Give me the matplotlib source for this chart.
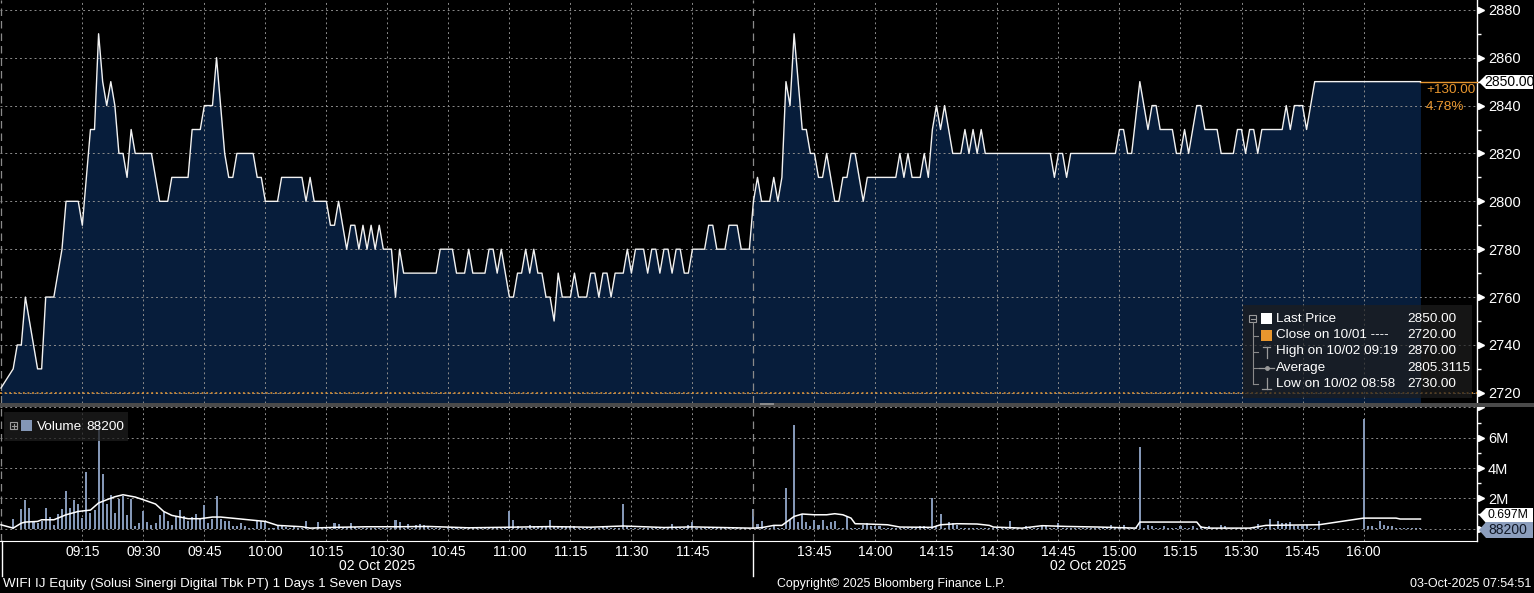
import numpy as np
import pandas as pd
import matplotlib
matplotlib.use('Agg')
import matplotlib.pyplot as plt
import matplotlib.transforms as mtransforms
from matplotlib.patches import Rectangle, Polygon

W, H = 1534, 593
plt.rcParams['font.family'] = ['Liberation Sans', 'DejaVu Sans']

NAVY = '#071d3b'
GRID = '#8c8c8c'
ORANGE = '#e8962e'
VOLC = '#8497b6'

# price path, morning session (time, price)
am_path = [
    ('08:55', 2722), ('08:58', 2730), ('08:59', 2740), ('09:00', 2740), ('09:01', 2760),
    ('09:04', 2730), ('09:05', 2730), ('09:06', 2760), ('09:08', 2760), ('09:10', 2780),
    ('09:11', 2800), ('09:14', 2800), ('09:15', 2790), ('09:17', 2830), ('09:18', 2830),
    ('09:19', 2870), ('09:20', 2850), ('09:21', 2840), ('09:22', 2850), ('09:23', 2840),
    ('09:24', 2820), ('09:25', 2820), ('09:26', 2810), ('09:27', 2830), ('09:28', 2820),
    ('09:32', 2820), ('09:34', 2800), ('09:36', 2800), ('09:37', 2810), ('09:41', 2810),
    ('09:42', 2830), ('09:44', 2830), ('09:45', 2840), ('09:47', 2840), ('09:48', 2860),
    ('09:49', 2840), ('09:50', 2820), ('09:51', 2810), ('09:52', 2810), ('09:53', 2820),
    ('09:57', 2820), ('09:58', 2810), ('09:59', 2810), ('10:00', 2800), ('10:03', 2800),
    ('10:04', 2810), ('10:09', 2810), ('10:10', 2800), ('10:11', 2810), ('10:12', 2800),
    ('10:15', 2800), ('10:16', 2790), ('10:17', 2790), ('10:18', 2800), ('10:20', 2780),
    ('10:21', 2790), ('10:22', 2790), ('10:23', 2780), ('10:24', 2790), ('10:25', 2780),
    ('10:26', 2790), ('10:27', 2780), ('10:28', 2790), ('10:29', 2780), ('10:31', 2780),
    ('10:32', 2760), ('10:33', 2780), ('10:34', 2770), ('10:42', 2770), ('10:43', 2780),
    ('10:46', 2780), ('10:47', 2770), ('10:49', 2770), ('10:50', 2780), ('10:51', 2770),
    ('10:54', 2770), ('10:55', 2780), ('10:56', 2780), ('10:57', 2770), ('10:58', 2780),
    ('11:00', 2760), ('11:01', 2760), ('11:02', 2770), ('11:03', 2770), ('11:04', 2780),
    ('11:05', 2770), ('11:06', 2780), ('11:07', 2770), ('11:08', 2770), ('11:09', 2760),
    ('11:10', 2760), ('11:11', 2750), ('11:12', 2770), ('11:13', 2760), ('11:15', 2760),
    ('11:16', 2770), ('11:17', 2760), ('11:19', 2760), ('11:20', 2770), ('11:21', 2770),
    ('11:22', 2760), ('11:23', 2770), ('11:24', 2770), ('11:25', 2760), ('11:26', 2770),
    ('11:28', 2770), ('11:29', 2780), ('11:30', 2770), ('11:31', 2780), ('11:33', 2780),
    ('11:34', 2770), ('11:35', 2780), ('11:36', 2780), ('11:37', 2770), ('11:38', 2780),
    ('11:39', 2780), ('11:40', 2770), ('11:41', 2780), ('11:42', 2780), ('11:43', 2770),
    ('11:44', 2770), ('11:45', 2780), ('11:48', 2780), ('11:49', 2790), ('11:50', 2790),
    ('11:51', 2780), ('11:53', 2780), ('11:54', 2790), ('11:56', 2790), ('11:57', 2780),
    ('11:59', 2780),
]

# price path, afternoon session
pm_path = [
    ('13:30', 2800), ('13:31', 2810), ('13:32', 2800), ('13:34', 2800), ('13:35', 2810),
    ('13:36', 2800), ('13:37', 2810), ('13:38', 2850), ('13:39', 2840), ('13:40', 2870),
    ('13:41', 2850), ('13:42', 2830), ('13:43', 2830), ('13:44', 2820), ('13:45', 2820),
    ('13:46', 2810), ('13:47', 2810), ('13:48', 2820), ('13:49', 2810), ('13:50', 2800),
    ('13:51', 2800), ('13:52', 2810), ('13:53', 2810), ('13:54', 2820), ('13:55', 2820),
    ('13:57', 2800), ('13:58', 2810), ('14:05', 2810), ('14:06', 2820), ('14:07', 2810),
    ('14:08', 2820), ('14:09', 2810), ('14:11', 2810), ('14:12', 2820), ('14:13', 2810),
    ('14:14', 2830), ('14:15', 2840), ('14:16', 2830), ('14:17', 2840), ('14:19', 2820),
    ('14:21', 2820), ('14:22', 2830), ('14:23', 2820), ('14:24', 2830), ('14:25', 2820),
    ('14:26', 2830), ('14:27', 2820), ('14:43', 2820), ('14:44', 2810), ('14:45', 2820),
    ('14:46', 2820), ('14:47', 2810), ('14:48', 2820), ('14:59', 2820), ('15:00', 2830),
    ('15:01', 2830), ('15:02', 2820), ('15:03', 2820), ('15:05', 2850), ('15:07', 2830),
    ('15:08', 2840), ('15:09', 2840), ('15:10', 2830), ('15:13', 2830), ('15:14', 2820),
    ('15:15', 2820), ('15:16', 2830), ('15:17', 2820), ('15:18', 2830), ('15:19', 2840),
    ('15:20', 2840), ('15:21', 2830), ('15:24', 2830), ('15:25', 2820), ('15:28', 2820),
    ('15:29', 2830), ('15:30', 2830), ('15:31', 2820), ('15:32', 2830), ('15:33', 2830),
    ('15:34', 2820), ('15:35', 2830), ('15:40', 2830), ('15:41', 2840), ('15:42', 2830),
    ('15:43', 2840), ('15:45', 2840), ('15:46', 2830), ('15:48', 2850), ('16:14', 2850),
]

# volume per minute (millions), morning from 08:55
vol_am = [
    0, 0, 0, 0.67, 0,
    1.28, 1.89, 1.39, 0.54, 0.38, 0.54, 1.35, 0.79, 0.27, 0.94,
    1.28, 2.47, 1.35, 1.89, 1.66, 0.72, 3.76, 1.01, 1.21, 7.2,
    3.64, 1.62, 2.2, 1.06, 1.96, 2.18, 0.9, 1.96, 0.16, 0.38,
    1.17, 0.45, 0.27, 0.38, 0.9, 1.12, 0.49, 0.22, 0.83, 1.21,
    0.83, 0.54, 0.76, 0.99, 0.61, 1.57, 0.38, 0.61, 2.18, 0.61,
    0.54, 0.54, 0.16, 0.16, 0.38, 0.16, 0.08, 0.05, 0.54, 0.49,
    0.45, 0.08, 0.05, 0.15, 0.15, 0.1, 0.08, 0.1, 0.08, 0.05,
    0.49, 0.08, 0.05, 0.45, 0.08, 0.05, 0.05, 0.38, 0.34, 0.05,
    0.05, 0.38, 0.1, 0.05, 0.08, 0.05, 0.08, 0.05, 0.05, 0.08,
    0.05, 0.08, 0.6, 0.44, 0.08, 0.33, 0.08, 0.27, 0.33, 0.27,
    0.1, 0.05, 0.05, 0.08, 0, 0.05, 0.05, 0.08, 0.05, 0.05,
    0.08, 0.05, 0.05, 0.05, 0.05, 0.08, 0.05, 0.05, 0.05, 0.1,
    1.16, 0.56, 0.2, 0.08, 0.08, 0.27, 0.15, 0.1, 0.1, 0.15,
    0.6, 0.15, 0.15, 0.15, 0.1, 0.15, 0.15, 0.08, 0.08, 0.1,
    0.05, 0.08, 0.05, 0.2, 0.2, 0.08, 0.05, 0.05, 1.6, 0.2,
    0.05, 0.05, 0.05, 0.05, 0.05, 0.05, 0.05, 0.05, 0.08, 0.1,
    0.33, 0.08, 0.05, 0.08, 0.27, 0.42, 0.05, 0.05, 0.05, 0.05,
    0.05, 0.05, 0.05, 0.05, 0.05, 0.05, 0.05, 0.05, 0.05, 0.05,
]

# volume per minute (millions), afternoon from 13:30
vol_pm = [
    1.28, 0.34, 0.54, 0.05, 0.05, 0.22, 0.05, 0.05, 2.7, 0.6,
    6.85, 0.45, 0.94, 0.45, 0.16, 0.6, 0.22, 0.6, 0.16, 0.45,
    0.54, 0.08, 0.08, 0.83, 0.05, 0.08, 0.08, 0.27, 0.38, 0.2,
    0.2, 0.15, 0.05, 0.05, 0.05, 0.05, 0.05, 0.05, 0.05, 0.05,
    0.05, 0.15, 0.15, 0.05, 2.0, 0.15, 0.94, 0.05, 0.45, 0.38,
    0.22, 0.05, 0.05, 0.05, 0.05, 0.05, 0.05, 0.05, 0.05, 0.05,
    0.05, 0.05, 0.05, 0.54, 0.05, 0.05, 0.05, 0.2, 0.05, 0.05,
    0.05, 0.27, 0.2, 0.05, 0.05, 0.38, 0.05, 0.05, 0.05, 0.05,
    0.05, 0.05, 0.05, 0.05, 0.05, 0.05, 0.05, 0.05, 0.27, 0.05,
    0.05, 0.27, 0.05, 0.05, 0.05, 5.4, 0.05, 0.27, 0.15, 0.05,
    0.05, 0.15, 0.05, 0.05, 0.05, 0.15, 0.05, 0.05, 0.15, 0.05,
    0.2, 0.05, 0.15, 0.05, 0.05, 0.27, 0.2, 0.05, 0.05, 0.05,
    0.05, 0.05, 0.05, 0.05, 0.31, 0.05, 0.05, 0.67, 0.05, 0.54,
    0.38, 0.38, 0.45, 0.2, 0.2, 0.2, 0.27, 0.05, 0.05, 0.54,
    0, 0, 0, 0, 0, 0, 0, 0, 0, 0,
    7.24, 0.16, 0.2, 0.05, 0.54, 0.27, 0.2, 0.16, 0.05, 0.05,
    0.05, 0.03, 0.03, 0.03, 0.03,
]

# volume moving average line (millions)
ma_path = [
    ('08:55', 0.26), ('08:58', 0.04), ('09:00', 0.37), ('09:01', 0.44), ('09:04', 0.48),
    ('09:05', 0.59), ('09:08', 0.59), ('09:11', 0.92), ('09:14', 1.14), ('09:17', 1.23),
    ('09:19', 1.70), ('09:21', 1.91), ('09:23', 2.11), ('09:25', 2.24), ('09:28', 2.09),
    ('09:30', 1.91), ('09:33', 1.63), ('09:35', 1.14), ('09:37', 0.88), ('09:41', 0.66),
    ('09:44', 0.66), ('09:47', 0.77), ('09:49', 0.77), ('09:54', 0.64), ('10:00', 0.48),
    ('10:03', 0.22), ('10:09', 0.13), ('10:11', 0.04), ('10:17', 0.09), ('10:25', 0.13),
    ('10:33', 0.13), ('10:40', 0.15), ('10:50', 0.06), ('11:00', 0.10), ('11:10', 0.14),
    ('11:20', 0.10), ('11:28', 0.18), ('11:38', 0.08), ('11:45', 0.12), ('11:59', 0.04),
    ('13:30', 0.04), ('13:32', 0.07), ('13:35', 0.22), ('13:37', 0.22), ('13:40', 0.81),
    ('13:42', 0.97), ('13:45', 0.92), ('13:48', 0.92), ('13:50', 0.99), ('13:52', 0.92),
    ('13:54', 0.70), ('13:55', 0.33), ('13:58', 0.31), ('14:03', 0.26), ('14:06', 0.11),
    ('14:14', 0.09), ('14:16', 0.26), ('14:20', 0.33), ('14:25', 0.31), ('14:28', 0.22),
    ('14:29', 0.11), ('14:33', 0.07), ('14:36', 0.04), ('14:41', 0.20), ('14:47', 0.15),
    ('14:55', 0.11), ('15:04', 0.04), ('15:05', 0.44), ('15:19', 0.44), ('15:20', 0.11),
    ('15:22', 0.04), ('15:32', 0.04), ('15:36', 0.22), ('15:49', 0.26), ('16:00', 0.70),
    ('16:08', 0.70), ('16:09', 0.64), ('16:14', 0.64),
]

tick_times = ['09:15', '09:30', '09:45', '10:00', '10:15', '10:30', '10:45', '11:00',
              '11:15', '11:30', '11:45', '13:45', '14:00', '14:15', '14:30', '14:45',
              '15:00', '15:15', '15:30', '15:45', '16:00']
price_ticks = list(range(2720, 2881, 20))
vol_ticks = [0, 2, 4, 6, 8]
vol_labels = ['', '2M', '4M', '6M', '']

legend_rows = [('Last Price', '2850.00'), ('Close on 10/01 ----', '2720.00'),
               ('High on 10/02 09:19', '2870.00'), ('Average', '2805.3115'),
               ('Low on 10/02 08:58', '2730.00')]


def to_x(hhmm):
    # trading-time axis: lunch break removed, 12:00 and 13:30 share a position
    h, m = map(int, hhmm.split(':'))
    t = h * 60 + m
    if t <= 12 * 60:
        return t - 9 * 60
    return 180 + t - (13 * 60 + 30)


path = am_path + pm_path
px = np.array([to_x(t) for t, _ in path], dtype=float)
pp = np.array([p for _, p in path], dtype=float)

am_min = pd.date_range('2025-10-02 08:55', periods=len(vol_am), freq='min').strftime('%H:%M')
pm_min = pd.date_range('2025-10-02 13:30', periods=len(vol_pm), freq='min').strftime('%H:%M')
vx = np.array([to_x(t) for t in list(am_min) + list(pm_min)], dtype=float)
vv = np.array(vol_am + vol_pm, dtype=float)

mx = np.array([to_x(t) for t, _ in ma_path], dtype=float)
mv = np.array([v for _, v in ma_path], dtype=float)

XL = (-5.24, 357.9)
PYL = (2715.75, 2884.1)
VYL = (-0.81, 8.03)


def box(x0, y0, x1, y1):
    return [x0 / W, 1 - y1 / H, (x1 - x0) / W, (y1 - y0) / H]


fig = plt.figure(figsize=(W / 100, H / 100), dpi=100, facecolor='black')
ax = fig.add_axes(box(0, 0, 1477, 403))
axv = fig.add_axes(box(0, 407, 1477, 541))
ov = fig.add_axes([0, 0, 1, 1], zorder=10)
ov.set_xlim(0, W); ov.set_ylim(H, 0); ov.axis('off'); ov.patch.set_alpha(0)

tick_x = [to_x(t) for t in tick_times]

# ---- price panel
ax.set_facecolor('black')
ax.set_xlim(*XL); ax.set_ylim(*PYL)
ax.fill_between(px, pp, PYL[0], color=NAVY, lw=0, zorder=1)
ax.plot(px, pp, color='#f2f2f2', lw=1.0, zorder=4)
ax.axhline(2720, color=ORANGE, ls=(0, (1.2, 1.8)), lw=1.1, zorder=3)
ax.plot([px[-1], XL[1]], [2850, 2850], color=ORANGE, lw=1, zorder=3, clip_on=False)
ax.set_xticks(tick_x)
ax.set_yticks(price_ticks)
ax.set_yticks(range(2730, 2880, 20), minor=True)
ax.set_axisbelow(False)
ax.grid(True, which='major', color=GRID, ls=(0, (2, 3)), lw=0.7)
ax.tick_params(axis='x', length=0, labelbottom=False)
ax.yaxis.tick_right()
ax.tick_params(axis='y', which='major', length=0, pad=8, labelcolor='white', labelsize=10.5)
ax.tick_params(axis='y', which='minor', length=3, width=1, color='white')

# ---- volume panel
axv.set_facecolor('black')
axv.set_xlim(*XL); axv.set_ylim(*VYL)
axv.bar(vx, vv, width=0.5, color=VOLC, lw=0, zorder=3)
axv.plot(mx, mv, color='white', lw=1.1, zorder=4)
axv.set_xticks(tick_x)
axv.set_xticklabels(tick_times)
axv.set_yticks(vol_ticks)
axv.set_yticklabels(vol_labels)
axv.set_yticks([1, 3, 5, 7], minor=True)
axv.set_axisbelow(False)
axv.grid(True, which='major', color=GRID, ls=(0, (2, 3)), lw=0.7)
axv.tick_params(axis='x', length=0, pad=3, labelcolor='white', labelsize=10)
axv.yaxis.tick_right()
axv.tick_params(axis='y', which='major', length=0, pad=8, labelcolor='white', labelsize=10.5)
axv.tick_params(axis='y', which='minor', length=3, width=1, color='white')

for a in (ax, axv):
    for s in ('top', 'left', 'bottom'):
        a.spines[s].set_visible(False)
    a.spines['right'].set_color('white')
    a.spines['right'].set_linewidth(1)
    # session boundaries
    for sx in (XL[0] + 0.35, 180):
        a.axvline(sx, color='#8a8a8a', ls=(0, (6, 4)), lw=0.9, zorder=3)
    tri = mtransforms.offset_copy(a.get_yaxis_transform(), fig=fig, x=4, y=0, units='dots')
    yt = [t for t in a.get_yticks() if a.get_ylim()[0] <= t <= a.get_ylim()[1]]
    a.plot([1] * len(yt), yt, ls='none', marker='>', ms=5, color='white',
           transform=tri, clip_on=False)
axv.spines['bottom'].set_visible(True)
axv.spines['bottom'].set_color('white')

# separator between panels
ov.add_patch(Rectangle((0, 403), W, 4, color='#4a4a4a', lw=0))
ov.add_patch(Rectangle((760, 403), 14, 2, color='#8a8a8a', lw=0))
# session markers under the date axis
for sx in (2, 752.5):
    ov.plot([sx, sx], [541, 576], color='white', lw=1)

# price legend
ov.add_patch(Rectangle((1243, 305), 229, 93, color='#1e1e1e', alpha=0.7, lw=0))
ov.add_patch(Rectangle((1249, 315), 7, 7, fill=False, ec='#9a9a9a', lw=0.8))
ov.plot([1250.5, 1254.5], [318.5, 318.5], color='#9a9a9a', lw=0.8)
ov.plot([1252.5, 1252.5], [322, 384], color='#8a8a8a', lw=0.8)
for yy in (336, 352, 368, 384):
    ov.plot([1252.5, 1258], [yy, yy], color='#8a8a8a', lw=0.8)
ov.add_patch(Rectangle((1261, 313), 11, 11, color='white', lw=0))
ov.add_patch(Rectangle((1261, 330), 11, 11, color=ORANGE, lw=0))
ov.plot([1266.5, 1266.5], [347, 358], color='#9a9a9a', lw=0.9)
ov.plot([1263, 1270], [347, 347], color='#9a9a9a', lw=0.9)
ov.plot([1259, 1274], [368, 368], color='#9a9a9a', lw=0.9)
ov.plot([1266.5], [368], marker='o', ms=2.5, color='#9a9a9a')
ov.plot([1266.5, 1266.5], [378, 389], color='#9a9a9a', lw=0.9)
ov.plot([1262, 1271], [389, 389], color='#9a9a9a', lw=0.9)
for i, (lab, val) in enumerate(legend_rows):
    yy = 319 + i * 16.2
    ov.text(1276, yy, lab, color='white', fontsize=9.7, va='center', ha='left')
    ov.text(1407, yy, val, color='white', fontsize=9.7, va='center', ha='left')

# last price tag and change
ov.add_patch(Polygon([(1479, 82), (1486, 75), (1533, 75), (1533, 89), (1486, 89)],
                     closed=True, fc='white', ec='none'))
ov.text(1509.5, 82.5, '2850.00', color='black', fontsize=10, ha='center', va='center')
ov.text(1426, 90, '+130.00', color=ORANGE, fontsize=9.7, ha='left', va='center')
ov.text(1426, 107, '4.78%', color=ORANGE, fontsize=9.7, ha='left', va='center')

# volume legend
ov.add_patch(Rectangle((4, 412), 124, 29, color='#1e1e1e', alpha=0.75, lw=0))
ov.add_patch(Rectangle((10, 422), 7, 7, fill=False, ec='#9a9a9a', lw=0.8))
ov.plot([11.5, 15.5], [425.5, 425.5], color='#9a9a9a', lw=0.8)
ov.plot([13.5, 13.5], [423.5, 427.5], color='#9a9a9a', lw=0.8)
ov.add_patch(Rectangle((21, 420), 11, 11, color=VOLC, lw=0))
ov.text(37, 426.5, 'Volume', color='white', fontsize=9.7, ha='left', va='center')
ov.text(86, 426.5, '88200', color='white', fontsize=9.7, ha='left', va='center')

# volume axis tags (moving-average tag sits just above the last-volume tag)
ov.add_patch(Polygon([(1479, 515), (1486, 508), (1533, 508), (1533, 523), (1486, 523)],
                     closed=True, fc='white', ec='none'))
ov.text(1488, 515, '0.697M', color='black', fontsize=8.8, ha='left', va='center')
ov.add_patch(Polygon([(1479, 530), (1486, 522), (1533, 522), (1533, 538), (1486, 538)],
                     closed=True, fc='#8c9ebd', ec='none'))
ov.text(1488, 530.5, '88200', color='#111826', fontsize=10, ha='left', va='center')

# date labels and footer
ov.text(377, 566, '02 Oct 2025', color='white', fontsize=10, ha='center', va='center')
ov.text(1088, 566, '02 Oct 2025', color='white', fontsize=10, ha='center', va='center')
ov.text(3, 584, 'WIFI IJ Equity (Solusi Sinergi Digital Tbk PT) 1 Days 1 Seven Days',
        color='white', fontsize=9.6, ha='left', va='center')
ov.text(891, 584, 'Copyright\u00a9 2025 Bloomberg Finance L.P.', color='white',
        fontsize=8.9, ha='center', va='center')
ov.text(1531, 584, '03-Oct-2025 07:54:51', color='white', fontsize=9,
        ha='right', va='center')

fig.savefig('out.png', dpi=100, facecolor='black')
